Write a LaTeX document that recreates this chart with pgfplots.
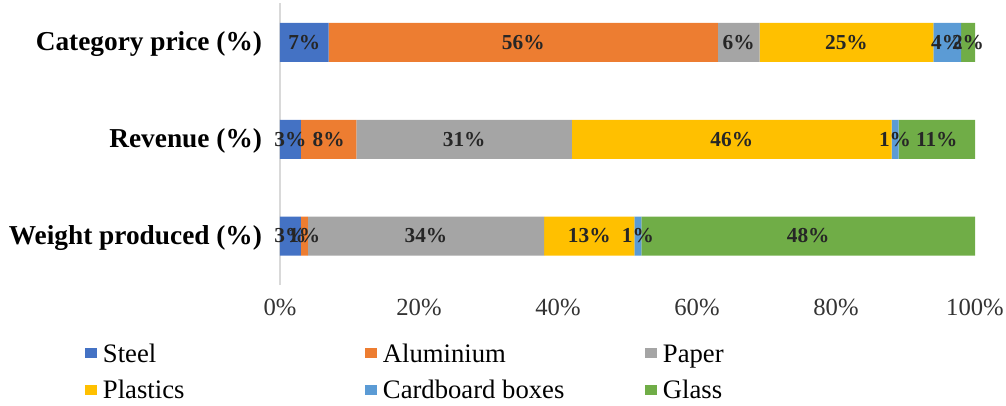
\documentclass[border=0pt]{standalone}
\usepackage{pgfplots}
\pgfplotsset{compat=1.18}
\usepackage{fontspec}
\setmainfont{Liberation Serif}
\definecolor{cSteel}{HTML}{4472C4}
\definecolor{cAlu}{HTML}{ED7D31}
\definecolor{cPaper}{HTML}{A5A5A5}
\definecolor{cPlast}{HTML}{FFC000}
\definecolor{cCard}{HTML}{5B9BD5}
\definecolor{cGlass}{HTML}{70AD47}
\newcommand{\lentry}[1]{\makebox[201pt][l]{\rmfamily\strut\hspace{4.5pt}#1}}
\begin{document}
\begin{tikzpicture}
\useasboundingbox (-210pt,-90pt) rectangle (544.5pt,213.75pt);
\pgfplotsset{
  common/.style={
    scale only axis, width=521.25pt, height=211.5pt,
    xmin=0, xmax=100, ymin=-0.506, ymax=2.408,
  }
}
\begin{axis}[common,
  xbar stacked, bar width=29.25pt,
  axis lines*=left,
  x axis line style={draw=none},
  y axis line style={draw=black!15, line width=1.5pt},
  major tick length=0pt,
  xtick={0,20,40,60,80,100},
  xticklabels={0\%,20\%,40\%,60\%,80\%,100\%},
  xticklabel style={font=\rmfamily\fontsize{18.5}{22}\selectfont, text=black!80, yshift=-7pt},
  ytick={0,1,2},
  yticklabels={Weight produced (\%),Revenue (\%),Category price (\%)},
  yticklabel style={font=\rmfamily\fontsize{20.5}{24}\selectfont\bfseries, text=black, xshift=-10pt, yshift=-1.5pt},
  legend columns=3,
  legend cell align=left,
  legend image code/.code={\fill[#1] (0pt,-5pt) rectangle (9pt,2.5pt);},
  legend style={
    at={(axis description cs:-0.2806,-0.1936)}, anchor=north west,
    draw=none, fill=none, inner sep=0pt, outer sep=0pt,
    font=\rmfamily\fontsize{20}{24}\selectfont,
    row sep=9pt, column sep=0pt,
    nodes={inner sep=0pt},
  },
]
\addplot[fill=cSteel, draw=none] coordinates {(3,0) (3,1) (7,2)};
\addplot[fill=cAlu, draw=none] coordinates {(1,0) (8,1) (56,2)};
\addplot[fill=cPaper, draw=none] coordinates {(34,0) (31,1) (6,2)};
\addplot[fill=cPlast, draw=none] coordinates {(13,0) (46,1) (25,2)};
\addplot[fill=cCard, draw=none] coordinates {(1,0) (1,1) (4,2)};
\addplot[fill=cGlass, draw=none] coordinates {(48,0) (11,1) (2,2)};
\legend{\lentry{Steel},\lentry{Aluminium},\lentry{Paper},\lentry{Plastics},\lentry{Cardboard boxes},\lentry{Glass}}
\end{axis}
\begin{axis}[common, hide axis,
  point meta=explicit symbolic,
  nodes near coords={\pgfplotspointmeta\%},
  nodes near coords align={center},
  every node near coord/.append style={font=\rmfamily\fontsize{16}{19}\selectfont\bfseries, text=black!85, anchor=center, inner sep=0pt},
]
\addplot[only marks, mark=*, mark size=0pt, mark options={draw=none, fill=none}] coordinates {
  (3.5,2) [7] (35,2) [56] (66,2) [6] (81.5,2) [25] (96,2) [4] (99,2) [2]
  (1.5,1) [3] (7,1) [8] (26.5,1) [31] (65,1) [46] (88.5,1) [1] (94.5,1) [11]
  (1.5,0) [3] (3.5,0) [1] (21,0) [34] (44.5,0) [13] (51.5,0) [1] (76,0) [48]
};
\end{axis}
\end{tikzpicture}
\end{document}
